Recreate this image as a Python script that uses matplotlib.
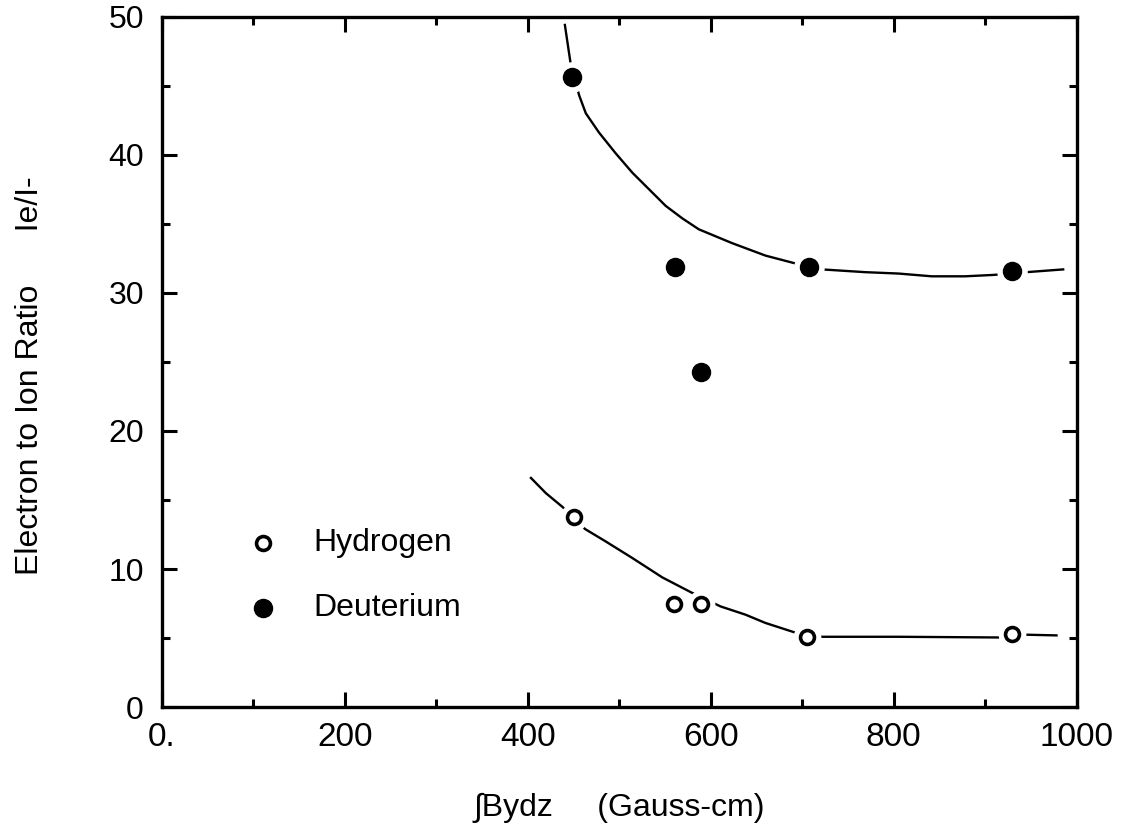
import matplotlib
matplotlib.use("Agg")
import matplotlib.pyplot as plt
from matplotlib.ticker import MultipleLocator

plt.rcParams['font.family'] = ['Liberation Sans', 'DejaVu Sans']

# Data
h_x = [450, 560, 589, 705, 929]
h_y = [13.8, 7.5, 7.5, 5.1, 5.3]
d_x = [448, 561, 589, 707, 929]
d_y = [45.6, 31.9, 24.3, 31.9, 31.6]

# Hand-drawn guide curves
d_curve_x = [440.5, 443.4, 447, 456.1, 463.4, 477.9, 496.1, 514.3, 532.5, 550.7, 568.8,
             587, 623.4, 659.8, 694.3, 721.6, 768.9, 805.2, 841.6, 878, 908.9, 945.2, 985.3]
d_curve_y = [49.4, 48.1, 46.5, 44.3, 43.0, 41.6, 40.1, 38.7, 37.5, 36.3, 35.4,
             34.6, 33.6, 32.7, 32.1, 31.7, 31.5, 31.4, 31.2, 31.2, 31.3, 31.5, 31.7]
h_curve_x = [403.4, 419.7, 437.9, 462.6, 485.2, 514.3, 547.0, 579.0, 610.6, 638.0, 659.8,
             692.5, 721.6, 805.2, 914.3, 945.2, 978]
h_curve_y = [16.6, 15.5, 14.5, 12.9, 12.0, 10.8, 9.4, 8.3, 7.3, 6.7, 6.1,
             5.4, 5.1, 5.1, 5.05, 5.25, 5.2]

x_ticks = [0, 200, 400, 600, 800, 1000]
x_ticklabels = ['0.', '200', '400', '600', '800', '1000']
y_ticks = [0, 10, 20, 30, 40, 50]
y_ticklabels = ['0', '10', '20', '30', '40', '50']
legend_labels = ['Hydrogen', 'Deuterium']

fig = plt.figure(figsize=(11.25, 8.33), dpi=100)
ax = fig.add_axes([0.144, 0.151, 0.813, 0.829])

ax.plot(d_curve_x, d_curve_y, color='black', lw=1.7, zorder=2)
ax.plot(h_curve_x, h_curve_y, color='black', lw=1.7, zorder=2)

# white halos to create the gaps around markers
ax.plot(d_x, d_y, 'o', ms=21, color='white', mec='white', zorder=3)
ax.plot(h_x, h_y, 'o', ms=19, color='white', mec='white', zorder=3)

ax.plot(d_x, d_y, 'o', ms=13, color='black', mec='black', zorder=4)
ax.plot(h_x, h_y, 'o', ms=10, mfc='white', mec='black', mew=2.6, zorder=4)

ax.set_xlim(0, 1000)
ax.set_ylim(0, 50)
ax.set_xticks(x_ticks)
ax.set_xticklabels(x_ticklabels)
ax.set_yticks(y_ticks)
ax.set_yticklabels(y_ticklabels)
ax.xaxis.set_minor_locator(MultipleLocator(100))
ax.yaxis.set_minor_locator(MultipleLocator(5))

ax.tick_params(which='both', direction='in', top=True, right=True, width=2.2, color='black')
ax.tick_params(which='major', length=11)
ax.tick_params(which='minor', length=6)
ax.tick_params(axis='x', which='major', labelsize=24, pad=11)
ax.tick_params(axis='y', which='major', labelsize=23, pad=13)

for sp in ax.spines.values():
    sp.set_linewidth(2.4)

ax.set_xlabel('\u222bBydz     (Gauss-cm)', fontsize=23, labelpad=28)
ax.set_ylabel('Electron to Ion Ratio      Ie/I-', fontsize=23)
ax.yaxis.set_label_coords(-0.128, 0.48)

# legend drawn manually
ax.plot([0.110], [0.238], 'o', ms=10, mfc='white', mec='black', mew=2.6,
        transform=ax.transAxes, clip_on=False)
ax.plot([0.110], [0.143], 'o', ms=13, color='black', transform=ax.transAxes, clip_on=False)
ax.text(0.165, 0.238, legend_labels[0], fontsize=23, va='center', ha='left', transform=ax.transAxes)
ax.text(0.165, 0.143, legend_labels[1], fontsize=23, va='center', ha='left', transform=ax.transAxes)

fig.savefig('out.png', dpi=100, facecolor='white')
